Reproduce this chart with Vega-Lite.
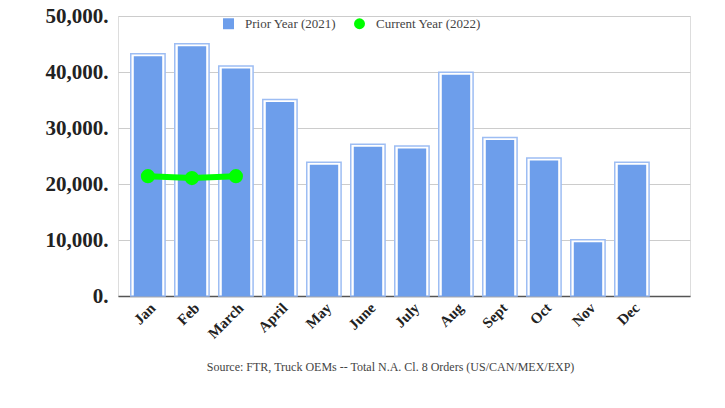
{
  "$schema": "https://vega.github.io/schema/vega-lite/v6.json",
  "autosize": "none",
  "width": 572,
  "height": 280,
  "padding": {"left": 118, "top": 16, "right": 35, "bottom": 112},
  "background": "white",
  "data": {
    "values": [
      {"month": "Jan", "series": "Prior Year (2021)", "value": 43250},
      {"month": "Feb", "series": "Prior Year (2021)", "value": 45050},
      {"month": "March", "series": "Prior Year (2021)", "value": 41050},
      {"month": "April", "series": "Prior Year (2021)", "value": 35100},
      {"month": "May", "series": "Prior Year (2021)", "value": 23900},
      {"month": "June", "series": "Prior Year (2021)", "value": 27100},
      {"month": "July", "series": "Prior Year (2021)", "value": 26800},
      {"month": "Aug", "series": "Prior Year (2021)", "value": 39950},
      {"month": "Sept", "series": "Prior Year (2021)", "value": 28300},
      {"month": "Oct", "series": "Prior Year (2021)", "value": 24650},
      {"month": "Nov", "series": "Prior Year (2021)", "value": 10050},
      {"month": "Dec", "series": "Prior Year (2021)", "value": 23900},
      {"month": "Jan", "series": "Current Year (2022)", "value": 21400},
      {"month": "Feb", "series": "Current Year (2022)", "value": 21050},
      {"month": "March", "series": "Current Year (2022)", "value": 21400}
    ]
  },
  "encoding": {
    "x": {
      "field": "month",
      "type": "nominal",
      "sort": ["Jan", "Feb", "March", "April", "May", "June", "July", "Aug", "Sept", "Oct", "Nov", "Dec"],
      "scale": {"paddingInner": 0, "paddingOuter": 0.5, "align": 0.18},
      "axis": {
        "title": "Source: FTR, Truck OEMs -- Total N.A. Cl. 8 Orders (US/CAN/MEX/EXP)",
        "titleFont": "Liberation Serif",
        "titleFontSize": 12,
        "titleFontWeight": "normal",
        "titleColor": "#444444",
        "titleX": 272,
        "titleY": 70,
        "titleBaseline": "middle",
        "titleAnchor": "middle",
        "labelAngle": -45,
        "labelAlign": "right",
        "labelBaseline": "top",
        "labelFont": "Liberation Serif",
        "labelFontWeight": "bold",
        "labelFontSize": 15,
        "labelColor": "#222222",
        "labelPadding": 4,
        "ticks": false,
        "domainColor": "#555555",
        "domainWidth": 1.5,
        "grid": false
      }
    },
    "y": {
      "field": "value",
      "type": "quantitative",
      "scale": {"domain": [0, 50000], "nice": false},
      "axis": {
        "title": null,
        "values": [0, 10000, 20000, 30000, 40000, 50000],
        "labelExpr": "format(datum.value, ',') + '.'",
        "labelFont": "Liberation Serif",
        "labelFontWeight": "bold",
        "labelFontSize": 21,
        "labelColor": "#222222",
        "labelPadding": 10,
        "ticks": false,
        "domain": false,
        "gridColor": "#cccccc",
        "gridWidth": 1
      }
    }
  },
  "layer": [
    {
      "transform": [{"filter": "datum.series === 'Prior Year (2021)'"}],
      "mark": {"type": "bar", "width": {"band": 0.78}, "fill": "white", "stroke": "#9dbdf3", "strokeWidth": 1.5},
      "encoding": {}
    },
    {
      "transform": [{"filter": "datum.series === 'Prior Year (2021)'"}],
      "mark": {"type": "bar", "width": {"band": 0.66}, "yOffset": 2.5, "cornerRadiusTopLeft": 2, "cornerRadiusTopRight": 2},
      "encoding": {
        "color": {
          "field": "series",
          "type": "nominal",
          "scale": {"domain": ["Prior Year (2021)", "Current Year (2022)"], "range": ["#6d9eeb", "#00ff00"]},
          "legend": {
            "title": null,
            "orient": "none",
            "direction": "horizontal",
            "legendX": 104,
            "legendY": 1,
            "labelFont": "Liberation Serif",
            "labelFontSize": 13,
            "labelColor": "#444444",
            "symbolSize": 120,
            "symbolOpacity": 1,
            "labelOffset": 10,
            "columnPadding": 16,
            "encode": {
              "symbols": {
                "update": {
                  "shape": {"signal": "datum.value === 'Prior Year (2021)' ? 'square' : 'circle'"},
                  "fillOpacity": {"value": 1},
                  "strokeWidth": {"value": 0}
                }
              }
            }
          }
        }
      }
    },
    {
      "transform": [{"filter": "datum.series === 'Current Year (2022)'"}],
      "mark": {"type": "line", "color": "#00ff00", "strokeWidth": 6},
      "encoding": {}
    },
    {
      "transform": [{"filter": "datum.series === 'Current Year (2022)'"}],
      "mark": {"type": "circle", "opacity": 1, "size": 200},
      "encoding": {
        "color": {"field": "series", "type": "nominal"}
      }
    }
  ]
}
